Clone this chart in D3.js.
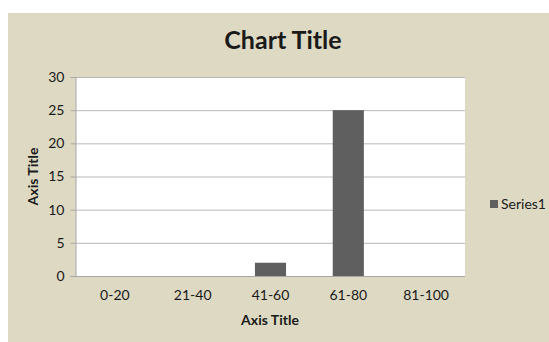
<!DOCTYPE html>
<html>
<head>
<meta charset="utf-8">
<script src="https://cdn.jsdelivr.net/npm/d3@7"></script>
<style>
  body { margin: 0; background: #fff; }
  text { font-family: Lato, "Open Sans", sans-serif; fill: #1a1a1a; }
</style>
</head>
<body>
<div id="chart"></div>
<script>
// chart data
var categories = ["0-20", "21-40", "41-60", "61-80", "81-100"];
var series1 = [0, 0, 2, 25, 0];
var yTicks = [0, 5, 10, 15, 20, 25, 30];

var W = 549, H = 342;
var plot = { left: 76, right: 465, top: 77, bottom: 276 };

var svg = d3.select("#chart").append("svg")
    .attr("width", W)
    .attr("height", H);

// tan chart background
svg.append("rect")
    .attr("x", 8).attr("y", 13)
    .attr("width", W - 8).attr("height", H - 13)
    .attr("fill", "#ddd9c3");

svg.append("rect")
    .attr("x", plot.left).attr("y", plot.top)
    .attr("width", plot.right - plot.left).attr("height", plot.bottom - plot.top)
    .attr("fill", "#ffffff");

var x = d3.scaleBand()
    .domain(categories)
    .range([plot.left, plot.right])
    .paddingInner(0.6)
    .paddingOuter(0.3);

var y = d3.scaleLinear()
    .domain([0, 30])
    .range([plot.bottom, plot.top]);

// gridlines
svg.append("g").selectAll("line")
    .data(yTicks.filter(function(d) { return d > 0; }))
    .enter().append("line")
    .attr("x1", plot.left).attr("x2", plot.right)
    .attr("y1", function(d) { return y(d) + 0.5; })
    .attr("y2", function(d) { return y(d) + 0.5; })
    .attr("stroke", "#b8b8b8")
    .attr("stroke-width", 1);

// bars
svg.append("g").selectAll("rect")
    .data(series1)
    .enter().append("rect")
    .attr("x", function(d, i) { return x(categories[i]); })
    .attr("y", function(d) { return y(d); })
    .attr("width", x.bandwidth())
    .attr("height", function(d) { return plot.bottom - y(d); })
    .attr("fill", "#5f5f5f");

// y axis
var yAxis = svg.append("g")
    .attr("transform", "translate(" + (plot.left - 0.5) + ",0)")
    .call(d3.axisLeft(y).tickValues(yTicks).tickSize(5).tickPadding(6));
yAxis.select(".domain").attr("stroke", "#a6a6a6");
yAxis.selectAll(".tick line").attr("stroke", "#a6a6a6");
yAxis.selectAll(".tick text")
    .attr("font-size", 14)
    .attr("font-family", "Lato, sans-serif")
    .attr("fill", "#1a1a1a");

// x axis
var xAxis = svg.append("g")
    .attr("transform", "translate(0," + (plot.bottom + 0.5) + ")")
    .call(d3.axisBottom(x).tickSize(0).tickPadding(14));
xAxis.select(".domain").attr("stroke", "#a6a6a6").attr("d", "M" + (plot.left - 5) + ",0H" + plot.right);
xAxis.selectAll(".tick text")
    .attr("font-size", 14)
    .attr("font-family", "Lato, sans-serif")
    .attr("fill", "#1a1a1a");

// titles
svg.append("text")
    .attr("x", 283).attr("y", 49)
    .attr("text-anchor", "middle")
    .attr("font-size", 25)
    .attr("font-weight", "bold")
    .attr("fill", "#000")
    .text("Chart Title");

svg.append("text")
    .attr("x", 270).attr("y", 325)
    .attr("text-anchor", "middle")
    .attr("font-size", 14)
    .attr("font-weight", "bold")
    .attr("fill", "#000")
    .text("Axis Title");

svg.append("text")
    .attr("transform", "translate(38," + ((plot.top + plot.bottom) / 2) + ") rotate(-90)")
    .attr("text-anchor", "middle")
    .attr("font-size", 14)
    .attr("font-weight", "bold")
    .attr("fill", "#000")
    .text("Axis Title");

// legend
var legend = svg.append("g").attr("transform", "translate(490,200)");
legend.append("rect")
    .attr("width", 8).attr("height", 8)
    .attr("fill", "#5f5f5f");
legend.append("text")
    .attr("x", 11).attr("y", 9)
    .attr("font-size", 14)
    .text("Series1");
</script>
</body>
</html>
